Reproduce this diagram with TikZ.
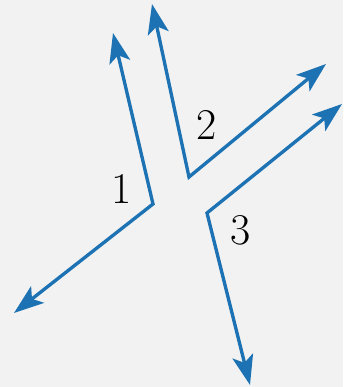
\documentclass[tikz,border=0pt]{standalone}
\usetikzlibrary{arrows.meta}
\definecolor{rayblue}{RGB}{28,114,178}
\definecolor{bgray}{RGB}{242,242,242}
\tikzset{
  ray/.style={rayblue, line width=1.9pt, line join=miter, {Stealth[length=17pt,width=12pt,inset=4pt]}-{Stealth[length=17pt,width=12pt,inset=4pt]}},
  anglabel/.style={font=\fontsize{25}{29}\selectfont, inner sep=0pt}
}
\begin{document}
\begin{tikzpicture}[x=0.02cm, y=-0.02cm]
			\fill[bgray] (0,0) rectangle (343,387);
			\useasboundingbox (0,0) rectangle (343,387);
			% angle 1
			\coordinate (a1) at (113,33); \coordinate (v1) at (153,204); \coordinate (b1) at (14,313);
			% angle 2
			\coordinate (a2) at (152,4); \coordinate (v2) at (189,177); \coordinate (b2) at (326,64);
			% angle 3
			\coordinate (a3) at (342,104); \coordinate (v3) at (207,213); \coordinate (b3) at (250,385);
			\foreach \i in {1,2,3} { \draw[ray] (a\i) -- (v\i) -- (b\i); }
			\node[anglabel] (l1) at (122,189) {1};
			\node[anglabel] (l2) at (207,125) {2};
			\node[anglabel] (l3) at (241,230) {3};
		\end{tikzpicture}
\end{document}
